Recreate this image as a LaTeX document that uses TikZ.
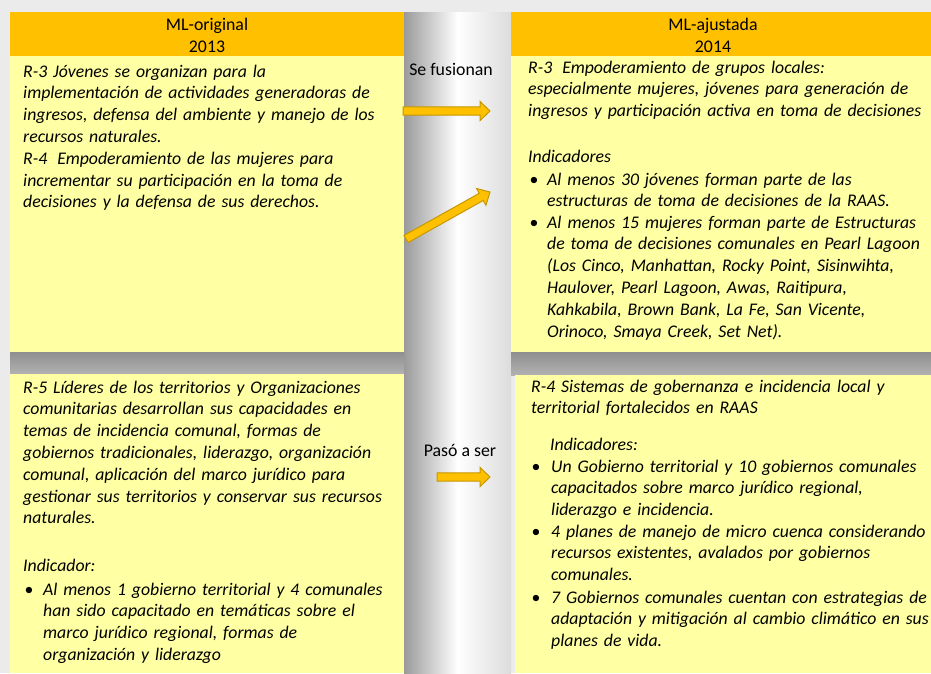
\documentclass[tikz,border=0pt]{standalone}
\usepackage{fontspec}
\setmainfont{Carlito}
\usepackage{xcolor}
\usepackage{tikz}
\usetikzlibrary{calc}
\definecolor{hdrorange}{HTML}{FFC000}
\definecolor{bodyyellow}{HTML}{FFFFA3}
\definecolor{arrfill}{HTML}{FFC000}
\definecolor{arredge}{HTML}{C59800}
\definecolor{bggray}{HTML}{EBEBEB}
\definecolor{shadedark}{HTML}{8F8F8F}
\definecolor{shadelight}{HTML}{B2B2B2}
\definecolor{coldark}{HTML}{9A9A9A}
\definecolor{colright}{HTML}{DCDCDC}
\tikzset{
  hdr/.style={fill=hdrorange},
  body/.style={fill=bodyyellow},
  txt/.style={anchor=base west, inner sep=0pt, text width=430pt, align=left, font=\itshape\fontsize{17.75}{21.8}\selectfont},
  lab/.style={anchor=base, inner sep=0pt, font=\fontsize{17.8}{21.8}\selectfont},
  hlab/.style={align=center, inner sep=0pt, font=\fontsize{17.8}{21.5}\selectfont},
  bul/.style={anchor=base, inner sep=0pt, font=\fontsize{17.8}{21.8}\selectfont},
  blockarr/.style={fill=arrfill, draw=arredge, line width=1pt, line join=miter},
}
% block arrow from tail #1 to tip #2
\newcommand{\blockarrow}[2]{%
  \coordinate (#1-hb) at ($(#2)!10pt!(#1)$);
  \path[blockarr] ($(#1)!4.1pt!90:(#2)$) -- ($(#1-hb)!4.1pt!90:(#2)$)
    -- ($(#1-hb)!9.6pt!90:(#2)$) -- (#2) -- ($(#1-hb)!9.6pt!-90:(#2)$)
    -- ($(#1-hb)!4.1pt!-90:(#2)$) -- ($(#1)!4.1pt!-90:(#2)$) -- cycle;
}

\begin{document}
\begin{tikzpicture}[x=1pt, y=-1pt]
  \useasboundingbox (0,0) rectangle (931,673);

  % background and shadows
  \fill[bggray] (0,0) rectangle (931,673);
  \shade[left color=coldark, right color=white] (404,12) rectangle (457.5,673);
  \shade[left color=white, right color=colright] (457,12) rectangle (511,673);
  \shade[top color=shadedark, bottom color=shadelight] (10,352) rectangle (404,374);
  \shade[top color=shadedark, bottom color=shadelight] (511,352) rectangle (931,375);

  % boxes
  \fill[body] (10,12) rectangle (404,352);
  \fill[hdr] (10,12) rectangle (404,56);
  \fill[body] (511,12) rectangle (931,352);
  \fill[hdr] (511,12) rectangle (931,56);
  \fill[body] (10,374) rectangle (404,673);
  \fill[body] (515,375) rectangle (931,673);

  % headers
  \node[hlab] (orighead) at (207,35.5) {ML-original\\2013};
  \node[hlab] (ajushead) at (713,35.5) {ML-ajustada\\2014};

  % ML-original 2013
  \node[txt] (r3old) at (23,77) {R-3 Jóvenes se organizan para la\\
    implementación de actividades generadoras de\\
    ingresos, defensa del ambiente y manejo de los\\
    recursos naturales.\\
    R-4\hspace{10pt}Empoderamiento de las mujeres para\\
    incrementar su participación en la toma de\\
    decisiones y la defensa de sus derechos.};

  \node[txt] (r5old) at (23,393) {R-5 Líderes de los territorios y Organizaciones\\
    comunitarias desarrollan sus capacidades en\\
    temas de incidencia comunal, formas de\\
    gobiernos tradicionales, liderazgo, organización\\
    comunal, aplicación del marco jurídico para\\
    gestionar sus territorios y conservar sus recursos\\
    naturales.};
  \node[txt] (indold) at (23,571) {Indicador:};
  \node[bul] (b1old) at (29,595) {•};
  \node[txt] (i1old) at (43,595) {Al menos 1 gobierno territorial y 4 comunales\\
    han sido capacitado en temáticas sobre el\\
    marco jurídico regional, formas de\\
    organización y liderazgo};

  % ML-ajustada 2014
  \node[txt] (r3new) at (528,73) {R-3\hspace{10pt}Empoderamiento de grupos locales:\\
    especialmente mujeres, jóvenes para generación de\\
    ingresos y participación activa en toma de decisiones};
  \node[txt] (indnew) at (528,162) {Indicadores};
  \node[bul] (b1new) at (534,185) {•};
  \node[txt] (i1new) at (547,185) {Al menos 30 jóvenes forman parte de las\\
    estructuras de toma de decisiones de la RAAS.};
  \node[bul] (b2new) at (534,228) {•};
  \node[txt] (i2new) at (547,228) {Al\hspace{6pt}menos 15 mujeres forman parte de\hspace{6pt}Estructuras\\
    de toma de decisiones comunales en Pearl Lagoon\\
    (Los Cinco, Manhattan, Rocky Point, Sisinwihta,\\
    Haulover, Pearl Lagoon, Awas, Raitipura,\\
    Kahkabila, Brown Bank, La Fe, San Vicente,\\
    Orinoco, Smaya Creek, Set Net).};

  \node[txt] (r4new) at (531,392) {R-4 Sistemas de gobernanza e incidencia local y\\
    territorial fortalecidos en RAAS};
  \node[txt] (ind4new) at (550,450) {Indicadores:};
  \node[bul] (b3new) at (536,472) {•};
  \node[txt] (i3new) at (551,472) {Un Gobierno territorial y 10 gobiernos comunales\\
    capacitados sobre marco jurídico regional,\\
    liderazgo e incidencia.};
  \node[bul] (b4new) at (536,537) {•};
  \node[txt] (i4new) at (551,537) {4 planes de manejo de micro cuenca considerando\\
    recursos existentes, avalados por gobiernos\\
    comunales.};
  \node[bul] (b5new) at (536,603) {•};
  \node[txt] (i5new) at (551,603) {7 Gobiernos comunales cuentan con estrategias de\\
    adaptación y mitigación al cambio climático en sus\\
    planes de vida.};

  % arrows between columns
  \node[lab] (fuselab) at (451,75) {Se fusionan};
  \node[lab] (pasolab) at (460,456) {Pasó a ser};
  \coordinate (fuseA) at (403,111);
  \coordinate (fuseAtip) at (490,111);
  \coordinate (fuseB) at (406,239);
  \coordinate (fuseBtip) at (490,192);
  \coordinate (paso) at (437,477);
  \coordinate (pasotip) at (490,477);
  \blockarrow{fuseA}{fuseAtip}
  \blockarrow{fuseB}{fuseBtip}
  \blockarrow{paso}{pasotip}
\end{tikzpicture}
\end{document}
